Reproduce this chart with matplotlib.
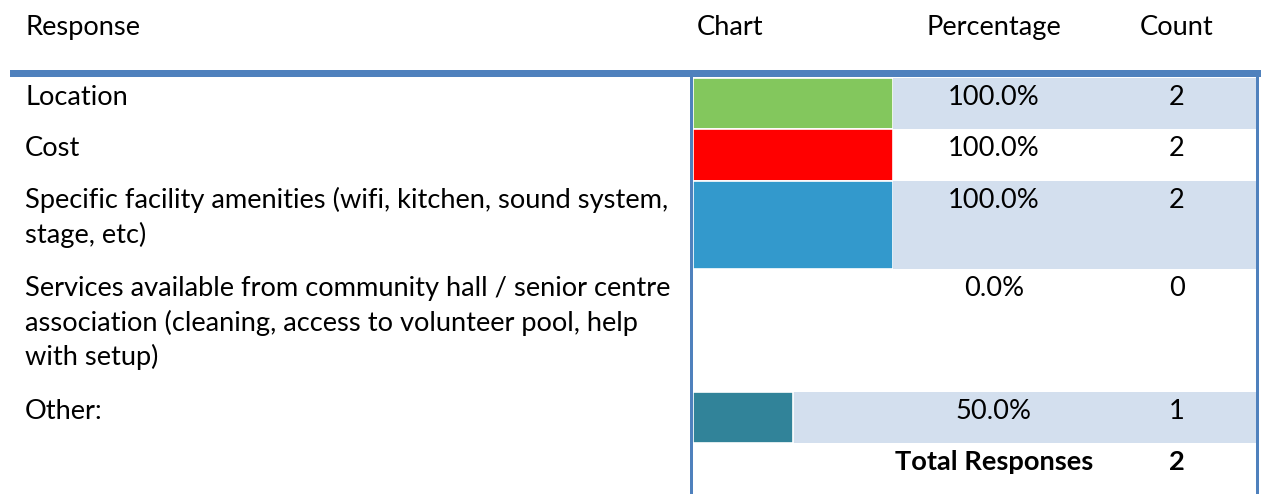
import matplotlib.pyplot as plt
from matplotlib.patches import Rectangle

# survey table: response label, percentage, count
responses = [
    "Location",
    "Cost",
    "Specific facility amenities (wifi, kitchen, sound system,\nstage, etc)",
    "Services available from community hall / senior centre\nassociation (cleaning, access to volunteer pool, help\nwith setup)",
    "Other:",
]
percentages = [100.0, 100.0, 100.0, 0.0, 50.0]
counts = [2, 2, 2, 0, 1]
total_responses = 2
bar_colors = ["#83C75D", "#FF0000", "#3399CC", "#3399CC", "#318399"]

W, H = 1261, 494
FONT = "Lato"
FS = 19.6
frame_blue = "#4F81BD"
shade = "#D3DFEE"

# row boundaries in pixels
row_edges = [78, 129, 181, 269, 392, 443, 494]
bar_left, bar_right = 693, 893
right_edge = 1256
pct_x, count_x = 994, 1177
line_gap = 34.5

fig = plt.figure(figsize=(W / 100, H / 100), dpi=100)
ax = fig.add_axes([0, 0, 1, 1])
ax.set_xlim(0, W)
ax.set_ylim(H, 0)
ax.axis("off")

# header
hy = 35
ax.text(25, hy, "Response", fontsize=FS, family=FONT, va="baseline", ha="left")
ax.text(730, hy, "Chart", fontsize=FS, family=FONT, va="baseline", ha="center")
ax.text(pct_x, hy, "Percentage", fontsize=FS, family=FONT, va="baseline", ha="center")
ax.text(count_x, hy, "Count", fontsize=FS, family=FONT, va="baseline", ha="center")

# shaded rows
for i in range(len(responses)):
    top, bot = row_edges[i], row_edges[i + 1]
    if i % 2 == 0:
        ax.add_patch(Rectangle((bar_left, top), right_edge - bar_left, bot - top,
                               facecolor=shade, edgecolor="none", zorder=1))

# bars in their own axes so the width comes from the percentage
bax = fig.add_axes([bar_left / W, 0, (bar_right - bar_left) / W, 1])
bax.set_xlim(0, 100)
bax.set_ylim(H, 0)
bax.axis("off")
bax.patch.set_alpha(0)
tops = row_edges[:-2]
heights = [row_edges[i + 1] - row_edges[i] for i in range(len(responses))]
bax.barh(tops, percentages, height=heights, align="edge", color=bar_colors,
         edgecolor="white", linewidth=1.2, zorder=2)

# row texts
for i, label in enumerate(responses):
    base = row_edges[i] + 27
    for j, line in enumerate(label.split("\n")):
        ax.text(25, base + j * line_gap, line, fontsize=FS, family=FONT,
                va="baseline", ha="left", zorder=3)
    ax.text(pct_x, base, f"{percentages[i]:.1f}%", fontsize=FS, family=FONT,
            va="baseline", ha="center", zorder=3)
    ax.text(count_x, base, str(counts[i]), fontsize=FS, family=FONT,
            va="baseline", ha="center", zorder=3)

tb = row_edges[-2] + 27
ax.text(pct_x, tb, "Total Responses", fontsize=FS, family=FONT, weight="bold",
        va="baseline", ha="center", zorder=3)
ax.text(count_x, tb, str(total_responses), fontsize=FS, family=FONT, weight="bold",
        va="baseline", ha="center", zorder=3)

# blue frame
ax.add_patch(Rectangle((10, 70), W - 10, 7.5, facecolor=frame_blue, edgecolor="none", zorder=4))
ax.add_patch(Rectangle((690, 77), 3, H - 77, facecolor=frame_blue, edgecolor="none", zorder=4))
ax.add_patch(Rectangle((1256, 77), 3, H - 77, facecolor=frame_blue, edgecolor="none", zorder=4))

fig.savefig("out.png", dpi=100)
